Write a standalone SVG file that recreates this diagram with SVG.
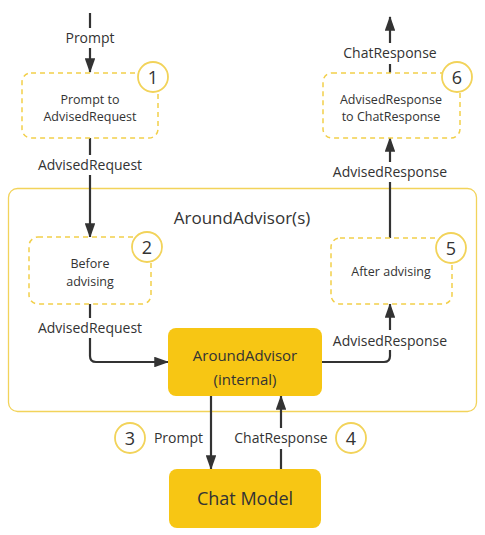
<svg xmlns="http://www.w3.org/2000/svg" width="485" height="535" viewBox="0 0 485 535">
<style>
text{font-family:"Open Sans","Liberation Sans",sans-serif;fill:#333;text-anchor:middle}
.dash{fill:#fff;stroke:#f2cf4a;stroke-width:1.5;stroke-dasharray:5 4}
.num{fill:#fff;stroke:#f2d35a;stroke-width:1.8}
.nt{font-size:18px}
.lbl{font-size:14px}
.in{font-size:12.5px}
.core{fill:#f7c614}
.ln{fill:none;stroke:#333;stroke-width:2.2}
</style>
<defs>
<marker id="ah" viewBox="0 0 14 10" refX="13" refY="5" markerWidth="6.8" markerHeight="4.8" orient="auto" markerUnits="strokeWidth">
<path d="M0,0 L14,5 L0,10 z" fill="#333"/>
</marker>
</defs>
<rect x="8.5" y="188.5" width="468" height="223" rx="9" fill="#fff" stroke="#f2d35a" stroke-width="1.3"/>
<text x="242" y="224" style="font-size:17px">AroundAdvisor(s)</text>
<g id="connectors">
<line class="ln" x1="90" y1="13" x2="90" y2="28"/>
<line class="ln" x1="90" y1="48" x2="90" y2="72" marker-end="url(#ah)"/>
<text class="lbl" x="90" y="43">Prompt</text>
<line class="ln" x1="90" y1="138" x2="90" y2="155"/>
<line class="ln" x1="90" y1="175" x2="90" y2="237" marker-end="url(#ah)"/>
<text class="lbl" x="90" y="170">AdvisedRequest</text>
<line class="ln" x1="90" y1="304" x2="90" y2="318"/>
<path class="ln" d="M90,338 V356 Q90,362 96,362 H168" marker-end="url(#ah)"/>
<text class="lbl" x="90" y="333">AdvisedRequest</text>
<path class="ln" d="M322,362 H384 Q390,362 390,356 V350"/>
<line class="ln" x1="390" y1="330" x2="390" y2="304" marker-end="url(#ah)"/>
<text class="lbl" x="390" y="346">AdvisedResponse</text>
<line class="ln" x1="390" y1="238" x2="390" y2="182"/>
<line class="ln" x1="390" y1="162" x2="390" y2="138" marker-end="url(#ah)"/>
<text class="lbl" x="390" y="177">AdvisedResponse</text>
<line class="ln" x1="390" y1="73" x2="390" y2="64"/>
<line class="ln" x1="390" y1="43" x2="390" y2="17" marker-end="url(#ah)"/>
<text class="lbl" x="390" y="58">ChatResponse</text>
<line class="ln" x1="211" y1="396" x2="211" y2="469" marker-end="url(#ah)"/>
<line class="ln" x1="281" y1="469" x2="281" y2="449"/>
<line class="ln" x1="281" y1="428" x2="281" y2="396" marker-end="url(#ah)"/>
<text class="lbl" x="203" y="443" style="text-anchor:end">Prompt</text>
<text class="lbl" x="281" y="443">ChatResponse</text>
</g>
<g id="n1">
<rect class="dash" x="22" y="73" width="136" height="65" rx="9"/>
<text class="in" x="90" y="104">Prompt to</text>
<text class="in" x="90" y="121">AdvisedRequest</text>
<circle class="num" cx="153" cy="77" r="15"/>
<text class="nt" x="153" y="83.5">1</text>
</g>
<g id="n2">
<rect class="dash" x="29" y="237" width="122" height="67" rx="9"/>
<text class="in" x="90" y="268">Before</text>
<text class="in" x="90" y="286">advising</text>
<circle class="num" cx="147" cy="247" r="15"/>
<text class="nt" x="147" y="253.5">2</text>
</g>
<g id="n3">
<circle class="num" cx="130" cy="438" r="15"/>
<text class="nt" x="130" y="444.5">3</text>
</g>
<g id="n4">
<circle class="num" cx="351" cy="438" r="15"/>
<text class="nt" x="351" y="444.5">4</text>
</g>
<g id="n5">
<rect class="dash" x="331" y="238" width="121" height="66" rx="9"/>
<text class="in" x="391" y="276">After advising</text>
<circle class="num" cx="451" cy="248" r="15"/>
<text class="nt" x="451" y="254.5">5</text>
</g>
<g id="n6">
<rect class="dash" x="323" y="73" width="137" height="65" rx="9"/>
<text class="in" x="391" y="104">AdvisedResponse</text>
<text class="in" x="391" y="121">to ChatResponse</text>
<circle class="num" cx="457" cy="77" r="15"/>
<text class="nt" x="457" y="83.5">6</text>
</g>
<g id="core">
<rect class="core" x="168" y="328" width="154" height="68" rx="8"/>
<text x="245" y="361" style="font-size:15px">AroundAdvisor</text>
<text x="245" y="385" style="font-size:15px">(internal)</text>
</g>
<g id="chatmodel">
<rect class="core" x="169" y="469" width="152" height="59" rx="8"/>
<text x="245" y="505" style="font-size:18px">Chat Model</text>
</g>
</svg>
